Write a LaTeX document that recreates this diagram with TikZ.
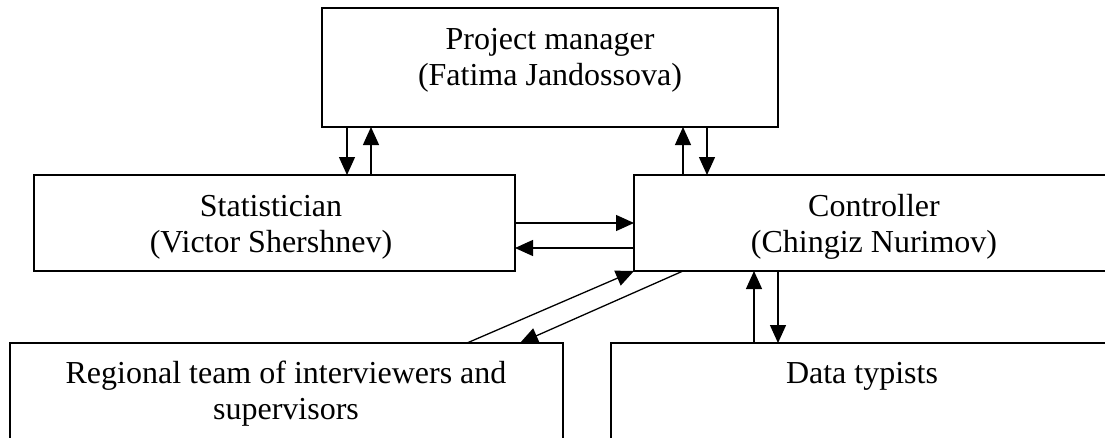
\documentclass[tikz,border=0pt]{standalone}
\usepackage{fontspec}
\setmainfont{Liberation Serif}
\usetikzlibrary{arrows.meta}
\tikzset{
  box/.style={draw, line width=1.3pt, rectangle, inner sep=0pt, outer sep=0pt},
  lbl/.style={anchor=base, inner sep=0pt, font=\fontsize{32}{36}\selectfont},
  arr/.style={line width=1.3pt, -{Triangle[length=18pt,width=16pt]}}
}
\begin{document}
\begin{tikzpicture}[x=1pt,y=-1pt]
\clip (0,0) rectangle (1105,437);
\fill[white] (0,0) rectangle (1105,437);
% boxes
\node[box, minimum width=456pt, minimum height=119pt] (pm) at (550,67.5) {};
\node[box, minimum width=481pt, minimum height=96pt] (stat) at (274.5,223) {};
\node[box, minimum width=480pt, minimum height=96pt] (ctrl) at (874,223) {};
\node[box, minimum width=553pt, minimum height=117pt] (reg) at (286.5,401.5) {};
\node[box, minimum width=502pt, minimum height=117pt] (typ) at (862,401.5) {};
% texts
\node[lbl] (pm1) at (550,49) {Project manager};
\node[lbl] (pm2) at (550,85) {(Fatima Jandossova)};
\node[lbl] (st1) at (271,216) {Statistician};
\node[lbl] (st2) at (271,252) {(Victor Shershnev)};
\node[lbl] (ct1) at (874,216) {Controller};
\node[lbl] (ct2) at (874,252) {(Chingiz Nurimov)};
\node[lbl] (rg1) at (286,383) {Regional team of interviewers and};
\node[lbl] (rg2) at (286,419) {supervisors};
\node[lbl] (tp1) at (862,383) {Data typists};
% x positions of connectors
\coordinate (xa) at (347,0);
\coordinate (xb) at (371,0);
\coordinate (xc) at (683,0);
\coordinate (xd) at (707,0);
\coordinate (xe) at (754,0);
\coordinate (xf) at (778,0);
\coordinate (xg) at (467,0);
\coordinate (xh) at (520,0);
\coordinate (ya) at (0,223);
\coordinate (yb) at (0,248);
% connectors
\draw[arr] (pm.south -| xa) -- (stat.north -| xa);
\draw[arr] (stat.north -| xb) -- (pm.south -| xb);
\draw[arr] (ctrl.north -| xc) -- (pm.south -| xc);
\draw[arr] (pm.south -| xd) -- (ctrl.north -| xd);
\draw[arr] (stat.east |- ya) -- (ctrl.west |- ya);
\draw[arr] (ctrl.west |- yb) -- (stat.east |- yb);
\draw[arr] (reg.north -| xg) -- (ctrl.south west);
\draw[arr] (ctrl.south -| xc) -- (reg.north -| xh);
\draw[arr] (typ.north -| xe) -- (ctrl.south -| xe);
\draw[arr] (ctrl.south -| xf) -- (typ.north -| xf);
\end{tikzpicture}
\end{document}
